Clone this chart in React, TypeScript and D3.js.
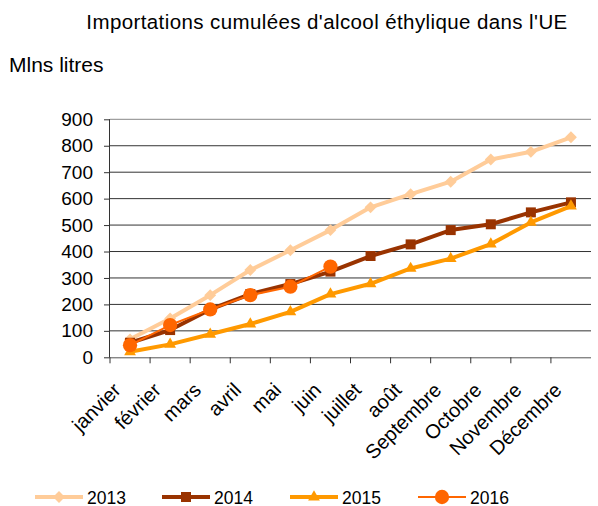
import React, { useEffect, useRef } from 'react';
import * as d3 from 'd3';

const months = ['janvier', 'février', 'mars', 'avril', 'mai', 'juin', 'juillet', 'août', 'Septembre', 'Octobre', 'Novembre', 'Décembre'];
const values2013 = [68, 147, 235, 330, 405, 481, 567, 617, 664, 748, 777, 832];
const values2014 = [55, 103, 181, 239, 277, 324, 383, 427, 481, 503, 548, 586];
const values2015 = [21, 49, 87, 126, 172, 239, 278, 336, 373, 428, 510, 572];
const values2016 = [46, 122, 181, 235, 267, 343];
const yTicks = [0, 100, 200, 300, 400, 500, 600, 700, 800, 900];

const series = [
  { name: '2013', values: values2013, color: '#FFCC99', width: 4, marker: 'diamond' },
  { name: '2014', values: values2014, color: '#993300', width: 4, marker: 'square' },
  { name: '2015', values: values2015, color: '#FF9900', width: 4, marker: 'triangle' },
  { name: '2016', values: values2016, color: '#FF6600', width: 2, marker: 'circle' },
];

const symbolFor = (m: string) => {
  if (m === 'diamond') return d3.symbol().type(d3.symbolDiamond2).size(90);
  if (m === 'square') return d3.symbol().type(d3.symbolSquare).size(100);
  if (m === 'triangle') return d3.symbol().type(d3.symbolTriangle).size(60);
  return d3.symbol().type(d3.symbolCircle).size(160);
};

const App = () => {
  const ref = useRef<SVGSVGElement>(null);

  useEffect(() => {
    const svg = d3.select(ref.current);
    svg.selectAll('*').remove();
    const font = 'Liberation Sans, Arial, sans-serif';

    const left = 110, right = 591, top = 119.3, bottom = 357.3;
    const x = d3.scaleBand().domain(months).range([left, right]);
    const y = d3.scaleLinear().domain([0, 900]).range([bottom, top]);

    // gridlines
    svg.append('g')
      .selectAll('line')
      .data(yTicks.filter(t => t > 0))
      .enter()
      .append('line')
      .attr('x1', left).attr('x2', right)
      .attr('y1', d => y(d)).attr('y2', d => y(d))
      .attr('stroke', d => (d === 900 ? '#888' : '#333'))
      .attr('stroke-width', 1);

    // y axis
    const yAxis = svg.append('g')
      .attr('transform', `translate(${left},0)`)
      .call(d3.axisLeft(y).tickValues(yTicks).tickSize(6).tickPadding(11).tickFormat(d3.format('d')));
    yAxis.select('.domain').attr('stroke', '#333').attr('d', `M-0.5,${top}V${bottom}`);
    yAxis.selectAll('.tick line').attr('stroke', '#333');
    yAxis.selectAll('text').attr('font-family', font).attr('font-size', 19).attr('fill', '#000');

    // x axis
    const xAxis = svg.append('g')
      .attr('transform', `translate(0,${bottom})`)
      .call(d3.axisBottom(x).tickSize(0).tickFormat(() => ''));
    xAxis.select('.domain').attr('stroke', '#555').attr('d', `M${left},0.5H${right}`);
    xAxis.selectAll('.tick').remove();
    xAxis.selectAll('.xtick')
      .data(months)
      .enter()
      .append('line')
      .attr('x1', d => x(d)!).attr('x2', d => x(d)!)
      .attr('y1', 0).attr('y2', 6)
      .attr('stroke', '#333');
    xAxis.selectAll('.xlabel')
      .data(months)
      .enter()
      .append('text')
      .attr('transform', d => `translate(${x(d)! + x.bandwidth() / 2 - 8},${34}) rotate(-45)`)
      .attr('text-anchor', 'end')
      .attr('font-family', font)
      .attr('font-size', 20)
      .attr('fill', '#000')
      .text(d => d);

    // lines and markers
    const line = d3.line<number>()
      .x((_, i) => x(months[i])! + x.bandwidth() / 2)
      .y(d => y(d));

    series.forEach(s => {
      svg.append('path')
        .attr('d', line(s.values))
        .attr('fill', 'none')
        .attr('stroke', s.color)
        .attr('stroke-width', s.width)
        .attr('stroke-linejoin', 'round');
      svg.append('g')
        .selectAll('path')
        .data(s.values)
        .enter()
        .append('path')
        .attr('d', symbolFor(s.marker))
        .attr('transform', (d, i) => `translate(${x(months[i])! + x.bandwidth() / 2},${y(d)})`)
        .attr('fill', s.color);
    });

    // title and unit
    svg.append('text')
      .attr('x', 327).attr('y', 29)
      .attr('text-anchor', 'middle')
      .attr('font-family', font).attr('font-size', 20.5)
      .attr('letter-spacing', 0.4)
      .text("Importations cumulées d'alcool éthylique dans l'UE");
    svg.append('text')
      .attr('x', 9).attr('y', 72)
      .attr('font-family', font).attr('font-size', 21)
      .text('Mlns litres');

    // legend
    const legendX = [35, 162, 290, 418];
    const legendY = 497;
    series.forEach((s, i) => {
      const g = svg.append('g').attr('transform', `translate(${legendX[i]},${legendY})`);
      g.append('line')
        .attr('x1', 0).attr('x2', 48)
        .attr('y1', 0).attr('y2', 0)
        .attr('stroke', s.color)
        .attr('stroke-width', s.width);
      g.append('path')
        .attr('d', symbolFor(s.marker))
        .attr('transform', 'translate(24,0)')
        .attr('fill', s.color);
      g.append('text')
        .attr('x', 52).attr('y', 6.5)
        .attr('font-family', font).attr('font-size', 17.5)
        .text(s.name);
    });
  }, []);

  return (
    <svg ref={ref} width={598} height={506} style={{ position: 'absolute', left: 0, top: 0, background: '#fff' }}></svg>
  );
};

export default App;
